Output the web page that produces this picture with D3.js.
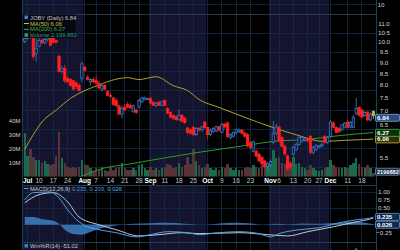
<!DOCTYPE html>
<html lang="en">
<head>
<meta charset="UTF-8">
<title>JOBY Daily</title>
<script src="https://d3js.org/d3.v7.min.js"></script>
<style>
  body { margin: 0; background: #000; }
  svg { display: block; font-family: "Liberation Sans", Arial, sans-serif; }
</style>
</head>
<body>
<div id="chart"></div>
<script>
// trading days on the chart (weekends + market holidays dropped)
const holidays = ["2023-07-04", "2023-09-04", "2023-11-23"];
const parseDay = d3.timeParse("%Y-%m-%d");
const fmtDay = d3.timeFormat("%Y-%m-%d");
const days = d3.timeDay.range(parseDay("2023-06-30"), parseDay("2023-12-23"))
    .filter(d => d.getDay() % 6 !== 0 && !holidays.includes(fmtDay(d)));

// daily candles: [open, high, low, close]
const ohlc = [
    [10.05,10.30,9.95,10.20],[10.20,10.70,10.15,10.55],[10.55,10.65,10.20,10.30],[10.24,10.30,9.15,9.30],[9.45,10.20,9.05,9.70],
    [9.80,10.30,9.75,10.10],[10.10,10.25,9.90,9.98],[9.98,10.35,9.90,10.15],[10.15,10.40,10.05,10.25],[10.24,10.35,9.80,9.85],
    [10.20,10.30,9.95,10.00],[10.10,10.15,9.95,10.00],[9.30,9.40,8.55,8.60],[8.60,8.85,8.50,8.75],[8.73,8.90,8.10,8.20],
    [8.30,8.40,8.10,8.15],[8.25,8.30,7.95,8.00],[8.20,8.25,7.80,7.85],[8.10,8.20,7.85,7.95],[8.00,8.10,7.75,7.80],
    [8.30,9.05,8.15,8.95],[8.80,8.85,8.60,8.65],[8.35,8.45,8.20,8.25],[8.15,8.30,8.00,8.25],[8.25,8.35,8.10,8.15],
    [8.20,8.40,8.05,8.10],[8.10,8.20,7.85,7.90],[7.85,8.05,7.75,8.00],[8.00,8.05,7.80,7.85],[7.75,7.80,7.55,7.60],
    [7.60,7.70,7.50,7.55],[7.50,7.55,7.20,7.25],[7.40,7.50,7.15,7.20],[7.20,7.25,6.85,6.90],[6.90,7.20,6.75,7.10],
    [7.15,7.25,7.00,7.05],[7.25,7.35,7.10,7.15],[7.20,7.30,7.10,7.12],[6.98,7.25,6.95,7.20],[7.05,7.10,6.90,6.95],
    [7.15,7.45,7.10,7.40],[7.35,7.55,7.30,7.50],[7.45,7.55,7.40,7.50],[7.45,7.50,7.40,7.48],[7.48,7.55,7.25,7.30],
    [7.33,7.40,7.20,7.22],[7.22,7.35,7.15,7.30],[7.33,7.40,7.20,7.22],[7.22,7.40,7.18,7.35],[7.40,7.45,7.20,7.22],
    [7.10,7.15,6.90,6.93],[6.95,7.00,6.75,6.79],[6.85,6.90,6.70,6.75],[6.80,6.85,6.65,6.70],[6.70,7.05,6.65,6.85],
    [6.86,6.90,6.60,6.65],[6.75,6.80,6.55,6.60],[6.42,6.45,6.20,6.27],[6.35,6.40,6.20,6.25],[6.43,6.50,6.15,6.20],
    [6.20,6.45,6.15,6.40],[6.40,6.45,6.30,6.35],[6.36,6.50,6.30,6.45],[6.62,6.65,6.40,6.43],[6.43,6.45,6.05,6.20],
    [6.20,6.40,6.15,6.35],[6.30,6.45,6.25,6.40],[6.32,6.50,6.28,6.46],[6.46,6.50,6.30,6.35],[6.27,6.60,6.25,6.53],
    [6.55,6.60,6.40,6.45],[6.59,6.65,6.10,6.14],[6.11,6.25,6.05,6.20],[6.15,6.30,6.10,6.27],[6.27,6.40,6.20,6.36],
    [6.30,6.40,6.25,6.35],[6.35,6.38,6.20,6.25],[6.25,6.30,6.10,6.15],[6.20,6.25,5.80,5.85],[5.95,6.00,5.75,5.80],
    [5.69,6.00,5.65,5.99],[5.69,5.75,5.50,5.55],[5.61,5.65,5.38,5.41],[5.52,5.55,5.30,5.33],[5.41,5.45,5.22,5.25],
    [5.25,5.38,5.15,5.33],[5.30,5.45,5.25,5.40],[5.95,6.65,5.90,6.25],[6.25,6.55,6.20,6.45],[6.45,6.50,5.95,6.00],
    [6.11,6.15,5.80,5.84],[5.84,5.90,5.55,5.61],[5.55,5.60,5.15,5.20],[5.35,5.40,5.20,5.25],[5.61,5.85,5.55,5.81],
    [5.75,5.95,5.70,5.90],[5.90,6.15,5.85,6.11],[6.00,6.15,5.95,6.10],[6.02,6.10,5.98,6.06],[6.05,6.10,5.95,6.00],
    [6.14,6.20,5.60,5.66],[5.66,5.85,5.60,5.81],[5.75,5.90,5.70,5.85],[5.82,5.88,5.78,5.85],[5.85,5.95,5.80,5.90],
    [6.14,6.20,5.90,5.96],[5.96,6.15,5.90,6.10],[6.14,6.70,6.10,6.62],[6.59,6.65,6.40,6.43],[6.43,6.48,6.25,6.27],
    [6.40,6.45,6.25,6.30],[6.36,6.55,6.30,6.53],[6.45,6.62,6.40,6.58],[6.62,6.70,6.40,6.43],[6.45,6.65,6.40,6.60],
    [6.43,6.85,6.40,6.79],[6.93,7.50,6.85,7.11],[7.14,7.20,6.80,6.86],[7.04,7.10,6.75,6.79],[6.85,7.00,6.80,6.95],
    [6.97,7.00,6.65,6.69],[6.69,6.95,6.65,6.90],[7.00,7.02,6.72,6.84]
];

// volume in millions of shares
const volume = [
    31,15,20,14,12,12,10,11,9,8,
    9,15,32,13,10,7,6,7,6,7,
    12,9,8,6,4,6,5,7,5,4,
    7,5,6,7,10,6,5,5,6,5,
    8,9,6,5,7,5,6,5,6,7,
    9,8,6,7,10,7,8,14,9,20,
    11,8,6,7,9,6,5,6,5,7,
    6,9,6,5,6,5,5,6,7,6,
    8,7,6,8,7,9,8,19,13,14,
    10,9,11,8,14,9,10,7,6,5,
    8,6,5,4,5,6,7,12,8,7,
    6,6,7,6,8,10,13,9,7,6,
    8,6,2.2
];

// moving averages, read at a few days: [day index, value]
const ma50 = [[0,5.75],[3,6.20],[6,6.62],[11,7.04],[16,7.48],[21,7.79],[26,8.02],[30,8.20],[36,8.33],
    [40,8.25],[46,8.37],[52,7.99],[57,7.79],[61,7.44],[68,7.14],[75,6.86],[87,6.43],[96,6.17],
    [104,5.99],[112,6.02],[122,6.06]];
const ma200 = [[10,4.80],[18,4.95],[27,5.20],[37,5.33],[47,5.47],[61,5.66],[78,5.87],[87,5.99],
    [99,6.05],[110,6.17],[122,6.27]];

// MACD(12,26,9)
const macdLine = [[0,0.76],[3,0.98],[9,1.00],[12,0.82],[15,0.46],[19,0.09],[22,-0.06],[26,-0.15],
    [32,-0.24],[39,-0.37],[44,-0.30],[50,-0.21],[57,-0.24],[61,-0.30],[68,-0.24],[75,-0.21],
    [82,-0.27],[86,-0.37],[89,-0.27],[96,-0.15],[103,-0.09],[110,0.06],[116,0.15],[121,0.21],[122,0.235]];
const signalLine = [[0,0.67],[5,0.92],[10,0.98],[15,0.70],[19,0.24],[26,0.00],[32,-0.15],[40,-0.34],
    [47,-0.30],[55,-0.24],[61,-0.27],[75,-0.24],[85,-0.30],[92,-0.34],[99,-0.21],[108,-0.06],
    [116,0.09],[121,0.18],[122,0.209]];
const macdHist = [[0,0.24],[3,0.24],[6,0.18],[10,0.12],[12,0.03],[14,-0.15],[17,-0.28],[20,-0.30],
    [23,-0.22],[26,-0.12],[30,-0.05],[34,0.00],[38,0.03],[44,0.05],[50,0.06],[56,0.03],[61,0.00],
    [66,0.02],[72,0.06],[78,0.05],[84,0.00],[88,0.03],[92,0.01],[97,0.04],[104,0.03],[110,0.06],
    [116,0.09],[120,0.05],[122,0.026]];

// Williams %R(14)
const willR = [[98,-75],[102,-60],[105,-40],[107,-6],[109,-35],[111,-22],[113,-30],[115,-12],
    [116,-3],[118,-22],[120,-40],[122,-51]];

// axis ticks
const tickDays = ["2023-07-03","2023-07-10","2023-07-17","2023-07-24","2023-08-01","2023-08-07","2023-08-14",
    "2023-08-21","2023-08-28","2023-09-01","2023-09-11","2023-09-18","2023-09-25","2023-10-02","2023-10-09",
    "2023-10-16","2023-10-23","2023-11-01","2023-11-06","2023-11-13","2023-11-20","2023-11-27","2023-12-01",
    "2023-12-11","2023-12-18"];
const tickLabels = ["Jul","10","17","24","Aug","7","14","21","28","Sep","11","18","25","Oct","9","16","23",
    "Nov","6","13","20","27","Dec","11","18"];
const monthLabels = ["Jul","Aug","Sep","Oct","Nov","Dec"];
const shadedMonths = [6, 8, 10]; // Jul, Sep, Nov (0-based month)
const priceTicks = [5.5, 6.5, 7.0, 7.5, 8.0, 8.5, 9.0, 9.5, 10.0, 10.5, 11.0];
const volTicks = [10, 20, 30, 40];
const macdTicks = [1.00, 0.75, 0.50, -0.25];

// layout
const width = 400, height = 250;
const plotL = 22, plotR = 376;
const priceTop = 14, priceBot = 176.5;
const macdTop = 185, macdBot = 242;
const wprTop = 242;

const svg = d3.select("#chart").append("svg")
    .attr("width", width).attr("height", height);

svg.append("rect").attr("width", width).attr("height", height).attr("fill", "#000");

const x = d3.scaleBand().domain(days).range([23.3, 374.8]);
const bw = x.bandwidth();
const cx = i => x(days[i]) + bw / 2;

const y = d3.scaleLog().domain([5, 11]).range([176.2, 24]);
const yVol = d3.scaleLinear().domain([0, 40]).range([176.5, 121]);
const yMacd = d3.scaleLinear().domain([-0.25, 1]).range([233, 192]);
const yWpr = d3.scaleLinear().domain([-100, 0]).range([292, 247]);
const gridY = d3.scaleLinear().domain([0, 8]).range([priceTop, 167.6]);

const panels = [[0, priceBot], [macdTop, macdBot], [wprTop, height]];

// month shading
shadedMonths.forEach(m => {
    const md = days.filter(d => d.getMonth() === m);
    const x0 = m === 6 ? plotL : x(md[0]);
    const x1 = x(md[md.length - 1]) + bw;
    panels.forEach(([t, b]) => {
        svg.append("rect").attr("x", x0).attr("y", t).attr("width", x1 - x0).attr("height", b - t)
            .attr("fill", "#14142e");
    });
});

// grid
const grid = svg.append("g").attr("stroke", "#142a48").attr("stroke-width", 0.8).attr("shape-rendering", "crispEdges");
d3.range(0, 9).forEach(k => {
    grid.append("line").attr("x1", plotL).attr("x2", plotR).attr("y1", gridY(k)).attr("y2", gridY(k));
});
grid.append("line").attr("x1", plotL).attr("x2", plotR).attr("y1", 4).attr("y2", 4);
[1.0, 0.5, 0.0].forEach(v => {
    grid.append("line").attr("x1", plotL).attr("x2", plotR).attr("y1", yMacd(v)).attr("y2", yMacd(v));
});
tickDays.forEach(s => {
    const xi = x(parseDay(s)) + bw / 2;
    panels.forEach(([t, b]) => {
        grid.append("line").attr("x1", xi).attr("x2", xi).attr("y1", t).attr("y2", b);
    });
});

// panel borders
const border = svg.append("g").attr("stroke", "#1d4050").attr("stroke-width", 1).attr("shape-rendering", "crispEdges");
border.append("line").attr("x1", plotL).attr("x2", plotL).attr("y1", 0).attr("y2", height);
border.append("line").attr("x1", plotR).attr("x2", plotR).attr("y1", 0).attr("y2", height);
border.append("line").attr("x1", plotL).attr("x2", plotR).attr("y1", priceTop).attr("y2", priceTop);
border.append("line").attr("x1", plotL).attr("x2", plotR).attr("y1", macdTop).attr("y2", macdTop);
border.append("line").attr("x1", plotL).attr("x2", plotR).attr("y1", wprTop).attr("y2", wprTop);

// clip paths for the panels
const defs = svg.append("defs");
defs.append("clipPath").attr("id", "clipPrice").append("rect")
    .attr("x", plotL).attr("y", priceTop).attr("width", plotR - plotL).attr("height", priceBot - priceTop);
defs.append("clipPath").attr("id", "clipMacd").append("rect")
    .attr("x", plotL).attr("y", macdTop).attr("width", plotR - plotL).attr("height", macdBot - macdTop);
defs.append("clipPath").attr("id", "clipWpr").append("rect")
    .attr("x", plotL).attr("y", wprTop).attr("width", plotR - plotL).attr("height", height - wprTop);

const up = i => ohlc[i][3] >= ohlc[i][0];
const last = ohlc.length - 1;
const bodyFill = i => i === last ? "#a8c83c" : (up(i) ? "#0d1a34" : "#ff2020");
const candleColor = i => i === last ? "#a8c83c" : (up(i) ? "#3f7fd0" : "#ff2020");

// volume
svg.append("g").attr("clip-path", "url(#clipPrice)")
    .selectAll("rect").data(volume).join("rect")
    .attr("x", (d, i) => x(days[i]) + 0.2)
    .attr("width", bw - 0.4)
    .attr("y", d => yVol(d))
    .attr("height", d => yVol(0) - yVol(d))
    .attr("fill", (d, i) => up(i) ? "#1c6a4c" : "#553538")
    .attr("shape-rendering", "crispEdges");

// moving averages
const maLine = d3.line().x(d => cx(d[0])).y(d => y(d[1])).curve(d3.curveMonotoneX);
const maG = svg.append("g").attr("clip-path", "url(#clipPrice)").attr("fill", "none");
maG.append("path").attr("d", maLine(ma200)).attr("stroke", "#2f9a2a").attr("stroke-width", 1);
maG.append("path").attr("d", maLine(ma50)).attr("stroke", "#a9a42a").attr("stroke-width", 1);

// candles
const candles = svg.append("g").attr("clip-path", "url(#clipPrice)")
    .selectAll("g").data(ohlc).join("g");
candles.append("line")
    .attr("x1", (d, i) => cx(i)).attr("x2", (d, i) => cx(i))
    .attr("y1", d => y(d[1])).attr("y2", d => y(d[2]))
    .attr("stroke", (d, i) => candleColor(i))
    .attr("stroke-width", 0.8);
candles.append("rect")
    .attr("x", (d, i) => cx(i) - 1.2)
    .attr("width", 2.4)
    .attr("y", d => y(Math.max(d[0], d[3])))
    .attr("height", d => Math.max(0.8, Math.abs(y(d[0]) - y(d[3]))))
    .attr("fill", (d, i) => bodyFill(i))
    .attr("stroke", (d, i) => candleColor(i))
    .attr("stroke-width", 0.7);

// MACD panel
const macdG = svg.append("g").attr("clip-path", "url(#clipMacd)");
macdG.append("path")
    .attr("d", d3.area().x(d => cx(d[0])).y0(yMacd(0)).y1(d => yMacd(d[1])).curve(d3.curveMonotoneX)(macdHist))
    .attr("fill", "#3c7fc0").attr("fill-opacity", 0.85);
macdG.append("path")
    .attr("d", d3.line().x(d => cx(d[0])).y(d => yMacd(d[1])).curve(d3.curveMonotoneX)(signalLine))
    .attr("fill", "none").attr("stroke", "#c8c8c8").attr("stroke-width", 1);
macdG.append("path")
    .attr("d", d3.line().x(d => cx(d[0])).y(d => yMacd(d[1])).curve(d3.curveMonotoneX)(macdLine))
    .attr("fill", "none").attr("stroke", "#4aa3e8").attr("stroke-width", 1);

// Williams %R panel
svg.append("g").attr("clip-path", "url(#clipWpr)").append("path")
    .attr("d", d3.line().x(d => cx(d[0])).y(d => yWpr(d[1])).curve(d3.curveLinear)(willR))
    .attr("fill", "none").attr("stroke", "#3f8ad8").attr("stroke-width", 1);

// x axis labels
svg.append("g").selectAll("text").data(tickDays).join("text")
    .attr("x", s => x(parseDay(s)) + bw / 2)
    .attr("y", 183)
    .attr("text-anchor", "middle")
    .attr("font-size", 6.5)
    .attr("font-weight", (s, i) => monthLabels.includes(tickLabels[i]) ? "bold" : "normal")
    .attr("fill", (s, i) => monthLabels.includes(tickLabels[i]) ? "#ffffff" : "#c8c8c8")
    .text((s, i) => tickLabels[i]);

// right axis labels
const axisText = (g, ticks, scale, fmt) => g.selectAll("text").data(ticks).join("text")
    .attr("x", 384).attr("y", d => scale(d) + 1.9)
    .attr("text-anchor", "middle").attr("font-size", 6.2).attr("fill", "#d0d0d0")
    .text(fmt);
axisText(svg.append("g"), priceTicks, y, d3.format(".1f"));
axisText(svg.append("g"), macdTicks, yMacd, d3.format(".2f"));
svg.append("text").attr("x", 381).attr("y", 7).attr("text-anchor", "middle")
    .attr("font-size", 6.2).attr("fill", "#d0d0d0").text("10");

// left volume axis
svg.append("g").selectAll("text").data(volTicks).join("text")
    .attr("x", 20.5).attr("y", d => yVol(d) + 2.3)
    .attr("text-anchor", "end").attr("font-size", 6).attr("fill", "#d0d0d0")
    .text(d => d + "M");

// value boxes on the right edge
const valueBoxes = [
    { v: y(ma50[ma50.length - 1][1]), label: "6.06", fill: "#2e2e08", stroke: "#c8c040", size: 6.2 },
    { v: y(ma200[ma200.length - 1][1]), label: "6.27", fill: "#0e2e10", stroke: "#40b040", size: 6.2 },
    { v: y(ohlc[last][3]) + 1.8, label: "6.84", fill: "#2a4a78", stroke: "#7aa8e0", size: 6.2 },
    { v: yVol(volume[last]) - 2, label: "2199882", fill: "#1a2a40", stroke: "#7090c0", size: 5.6 },
    { v: yMacd(0.235) - 0.5, label: "0.235", fill: "#14284a", stroke: "#5a98d8", size: 6.1 },
    { v: yMacd(0.026) + 0.5, label: "0.026", fill: "#14284a", stroke: "#5a98d8", size: 6.1 }
];
const boxes = svg.append("g").selectAll("g").data(valueBoxes).join("g");
boxes.append("rect")
    .attr("x", 375.5).attr("y", d => d.v - 3.2).attr("width", 24).attr("height", 7).attr("rx", 1)
    .attr("fill", d => d.fill).attr("stroke", d => d.stroke).attr("stroke-width", 0.8);
boxes.append("text")
    .attr("x", 377).attr("y", d => d.v + 2.2)
    .attr("font-size", d => d.size).attr("font-weight", "bold").attr("fill", "#ffffff")
    .text(d => d.label);

// legend
const legend = svg.append("g");
legend.append("rect").attr("x", 22.5).attr("y", 14.5).attr("width", 53).attr("height", 23.5)
    .attr("fill", "#05050c").attr("fill-opacity", 0.85);
const legendRows = [
    { text: "JOBY (Daily) 6.84", color: "#c8c8c8", icon: "#3f7fd0" },
    { text: "MA(50) 6.06", color: "#c8c23c", icon: "#c8c23c" },
    { text: "MA(200) 6.27", color: "#3cac3c", icon: "#3cac3c" },
    { text: "Volume 2,199,882", color: "#25a070", icon: "#25a070" }
];
legendRows.forEach((r, k) => {
    const by = 19.6 + k * 5.9;
    if (k === 0 || k === 3) {
        legend.append("rect").attr("x", 24.5).attr("y", by - 4).attr("width", 3.5).attr("height", 3.5).attr("fill", r.icon);
    } else {
        legend.append("line").attr("x1", 24).attr("x2", 29).attr("y1", by - 2).attr("y2", by - 2)
            .attr("stroke", r.icon).attr("stroke-width", 1);
    }
    legend.append("text").attr("x", 30).attr("y", by).attr("font-size", 5.8).attr("fill", r.color).text(r.text);
});

// MACD + Williams labels
svg.append("line").attr("x1", 24).attr("x2", 28.5).attr("y1", 188.5).attr("y2", 188.5).attr("stroke", "#4aa3e8");
const mt = svg.append("text").attr("x", 30).attr("y", 191).attr("font-size", 5.8);
mt.append("tspan").attr("fill", "#c8c8c8").text("MACD(12,26,9) ");
mt.append("tspan").attr("fill", "#4a9ad8").text("0.235, 0.209, ");
mt.append("tspan").attr("fill", "#6ab8e8").text("0.026");
svg.append("rect").attr("x", 24.5).attr("y", 244).attr("width", 3.5).attr("height", 3.5).attr("fill", "#3f7fd0");
svg.append("text").attr("x", 30).attr("y", 247.6).attr("font-size", 5.8).attr("fill", "#c8c8c8").text("Wm%R(14) -51.02");
</script>
</body>
</html>
